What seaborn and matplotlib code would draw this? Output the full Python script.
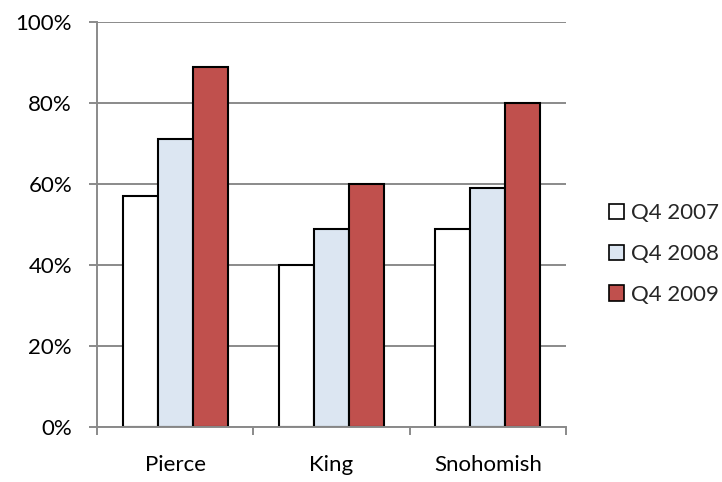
import matplotlib
matplotlib.use("Agg")
import matplotlib.pyplot as plt
import seaborn as sns
import pandas as pd
from matplotlib.ticker import FixedLocator, PercentFormatter

counties = ["Pierce", "King", "Snohomish"]
series = ["Q4 2007", "Q4 2008", "Q4 2009"]
q4_2007 = [57, 40, 49]
q4_2008 = [71, 49, 59]
q4_2009 = [89, 60, 80]
colors = ["#FFFFFF", "#DCE6F2", "#C0504D"]

rows = []
for name, vals in zip(series, [q4_2007, q4_2008, q4_2009]):
    for county, v in zip(counties, vals):
        rows.append({"County": county, "Quarter": name, "Share": v})
df = pd.DataFrame(rows)

sns.set_theme(style="white")
plt.rcParams["font.family"] = ["Lato", "DejaVu Sans"]

W, H = 722, 482
fig = plt.figure(figsize=(W / 100, H / 100), dpi=100)
ax = fig.add_axes([97 / W, 1 - 427 / H, (566 - 97) / W, (427 - 22) / H])

sns.barplot(data=df, x="County", y="Share", hue="Quarter", order=counties,
            hue_order=series, palette=colors, saturation=1, edgecolor="black",
            linewidth=1.5, width=0.672, gap=0, ax=ax, legend=True)

grid_c = "#8A8A8A"
ax.set_ylim(0, 100)
ax.set_xlim(-0.5, 2.5)
ax.set_yticks([0, 20, 40, 60, 80, 100])
ax.yaxis.set_major_formatter(PercentFormatter(decimals=0))
ax.yaxis.grid(True, color=grid_c, linewidth=1.4)
ax.set_axisbelow(True)

# category boundaries carry the tick marks, names sit between them
ax.xaxis.set_major_locator(FixedLocator([-0.5, 0.5, 1.5, 2.5]))
ax.xaxis.set_minor_locator(FixedLocator([0, 1, 2]))
ax.set_xticklabels([], minor=False)
ax.set_xticklabels(counties, minor=True)
ax.tick_params(axis="x", which="major", direction="out", length=6, width=1.4,
               color=grid_c, bottom=True)
ax.tick_params(axis="x", which="minor", length=0, pad=20, labelsize=16, colors="black")
ax.tick_params(axis="y", direction="out", length=6, width=1.4, color=grid_c,
               left=True, labelsize=16, pad=12, labelcolor="black")
ax.set_xlabel("")
ax.set_ylabel("")

for side in ["top", "right"]:
    ax.spines[side].set_visible(False)
for side in ["left", "bottom"]:
    ax.spines[side].set_color(grid_c)
    ax.spines[side].set_linewidth(1.4)

ax.get_legend().remove()
handles, labels = ax.get_legend_handles_labels()
leg = fig.legend(handles, labels, loc="center left",
                 bbox_to_anchor=(609 / W, 1 - 254 / H), frameon=False,
                 fontsize=16, handlelength=0.68, handleheight=0.68,
                 handletextpad=0.32, labelspacing=0.94, borderaxespad=0,
                 borderpad=0)
for h in leg.legend_handles:
    h.set_edgecolor("black")
    h.set_linewidth(1.2)

fig.savefig("out.png", dpi=100)
